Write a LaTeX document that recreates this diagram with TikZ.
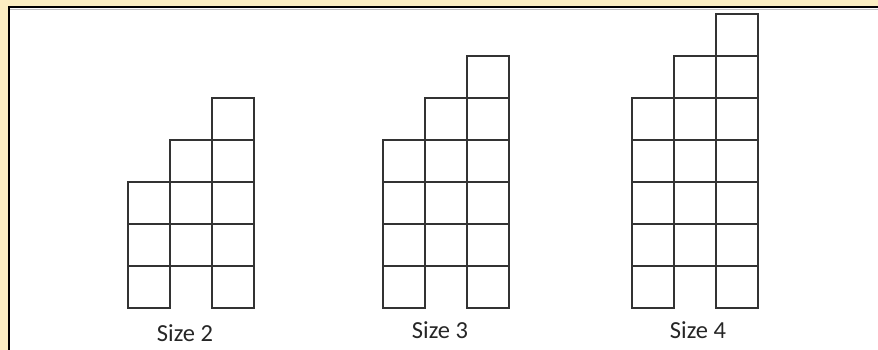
\documentclass[tikz,border=0pt]{standalone}
\usepackage{fontspec}
\setmainfont{Carlito}
\definecolor{szCream}{HTML}{FBEEC2}
\definecolor{szLine}{HTML}{333333}
\definecolor{szText}{HTML}{262626}
\tikzset{
  sz cell/.style={draw=szLine, line width=1.3pt, minimum size=42pt, inner sep=0pt, outer sep=0pt},
  sz frame/.style={draw=black, line width=2pt},
  sz label/.style={font=\fontsize{24.5}{28}\selectfont, text=szText, inner sep=0pt, anchor=base},
}
\begin{document}
\begin{tikzpicture}[x=1pt,y=1pt]
  \useasboundingbox (0,0) rectangle (878,350);
  % Cream margin at top and left
  \fill[szCream] (0,0) rectangle (8,350);
  \fill[szCream] (0,343) rectangle (878,350);
  \draw[sz frame] (9,0) -- (9,342.5) -- (878,342.5);
  \draw[gray!50, line width=0.8pt] (10,341) -- (878,341);

  % Figures: size n, left edge x, label position
  \foreach \n/\x/\lx/\ly in {2/128/185/8, 3/383/440/11, 4/632/698/11} {
    \pgfmathtruncatemacro\high{\n+1}
    \pgfmathtruncatemacro\tall{\n+2}
    % left column
    \foreach \r in {0,...,\n}
      \node[sz cell] (s\n-a\r) at (\x+21, 63+\r*42) {};
    % middle column, raised by one
    \foreach \r in {1,...,\high}
      \node[sz cell] (s\n-b\r) at (\x+63, 63+\r*42) {};
    % right column
    \foreach \r in {0,...,\tall}
      \node[sz cell] (s\n-c\r) at (\x+105, 63+\r*42) {};
    \node[sz label] (s\n-lbl) at (\lx, \ly) {Size \n};
  }
\end{tikzpicture}
\end{document}
